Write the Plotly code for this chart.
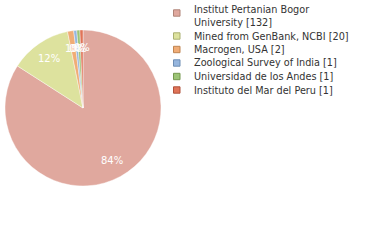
import plotly.graph_objects as go
import math

labels = ["Institut Pertanian Bogor University [132]", "Mined from GenBank, NCBI [20]",
          "Macrogen, USA [2]", "Zoological Survey of India [1]",
          "Universidad de los Andes [1]", "Instituto del Mar del Peru [1]"]
legend_text = [["Institut Pertanian Bogor", "University [132]"], ["Mined from GenBank, NCBI [20]"],
               ["Macrogen, USA [2]"], ["Zoological Survey of India [1]"],
               ["Universidad de los Andes [1]"], ["Instituto del Mar del Peru [1]"]]
values = [132, 20, 2, 1, 1, 1]
colors = ["#e0a89e", "#dde29e", "#f0ac76", "#96b6de", "#9cc476", "#e07458"]
borders = ["#b08478", "#aab070", "#bf8450", "#6e8eb4", "#74984e", "#b0503a"]

W, H = 380, 240
CX, CY, R = 83, 108, 78
total = sum(values)
texts = [f"{math.floor(v * 100 / total)}%" for v in values]

fig = go.Figure(go.Pie(
    labels=labels, values=values, textinfo="none",
    marker=dict(colors=colors, line=dict(width=0.4, color="white")),
    sort=False, direction="clockwise", rotation=0,
    domain=dict(x=[(CX - R) / W, (CX + R) / W], y=[1 - (CY + R) / H, 1 - (CY - R) / H]),
    hoverinfo="label+value", showlegend=False,
))

annotations = []
shapes = []
# slice labels along each slice bisector
cum = 0
for v, t in zip(values, texts):
    mid = (cum + v / 2) / total * 2 * math.pi
    cum += v
    d = 0.77 * R
    px = CX + d * math.sin(mid)
    py = CY - d * math.cos(mid)
    annotations.append(dict(x=px / W, y=1 - py / H, xref="paper", yref="paper",
                            text=t, showarrow=False, xanchor="center", yanchor="middle",
                            font=dict(color="white", size=10, family="DejaVu Sans")))

# legend
y = 10
for lines, c, b in zip(legend_text, colors, borders):
    sy = y + (3 if len(lines) > 1 else 0)
    shapes.append(dict(type="rect", xref="paper", yref="paper",
                       x0=173.5 / W, x1=180 / W, y0=1 - (sy + 3.2) / H, y1=1 - (sy - 3.2) / H,
                       fillcolor=c, line=dict(color=b, width=1)))
    for ln in lines:
        annotations.append(dict(x=192 / W, y=1 - y / H, xref="paper", yref="paper",
                                text=ln, showarrow=False, xanchor="left", yanchor="middle",
                                font=dict(color="#333333", size=9.7, family="DejaVu Sans")))
        y += 12.5
    y += 1

fig.update_layout(
    width=W, height=H, margin=dict(l=0, r=0, t=0, b=0),
    paper_bgcolor="white", plot_bgcolor="white",
    annotations=annotations, shapes=shapes, showlegend=False,
)
fig.write_html("out.html")
